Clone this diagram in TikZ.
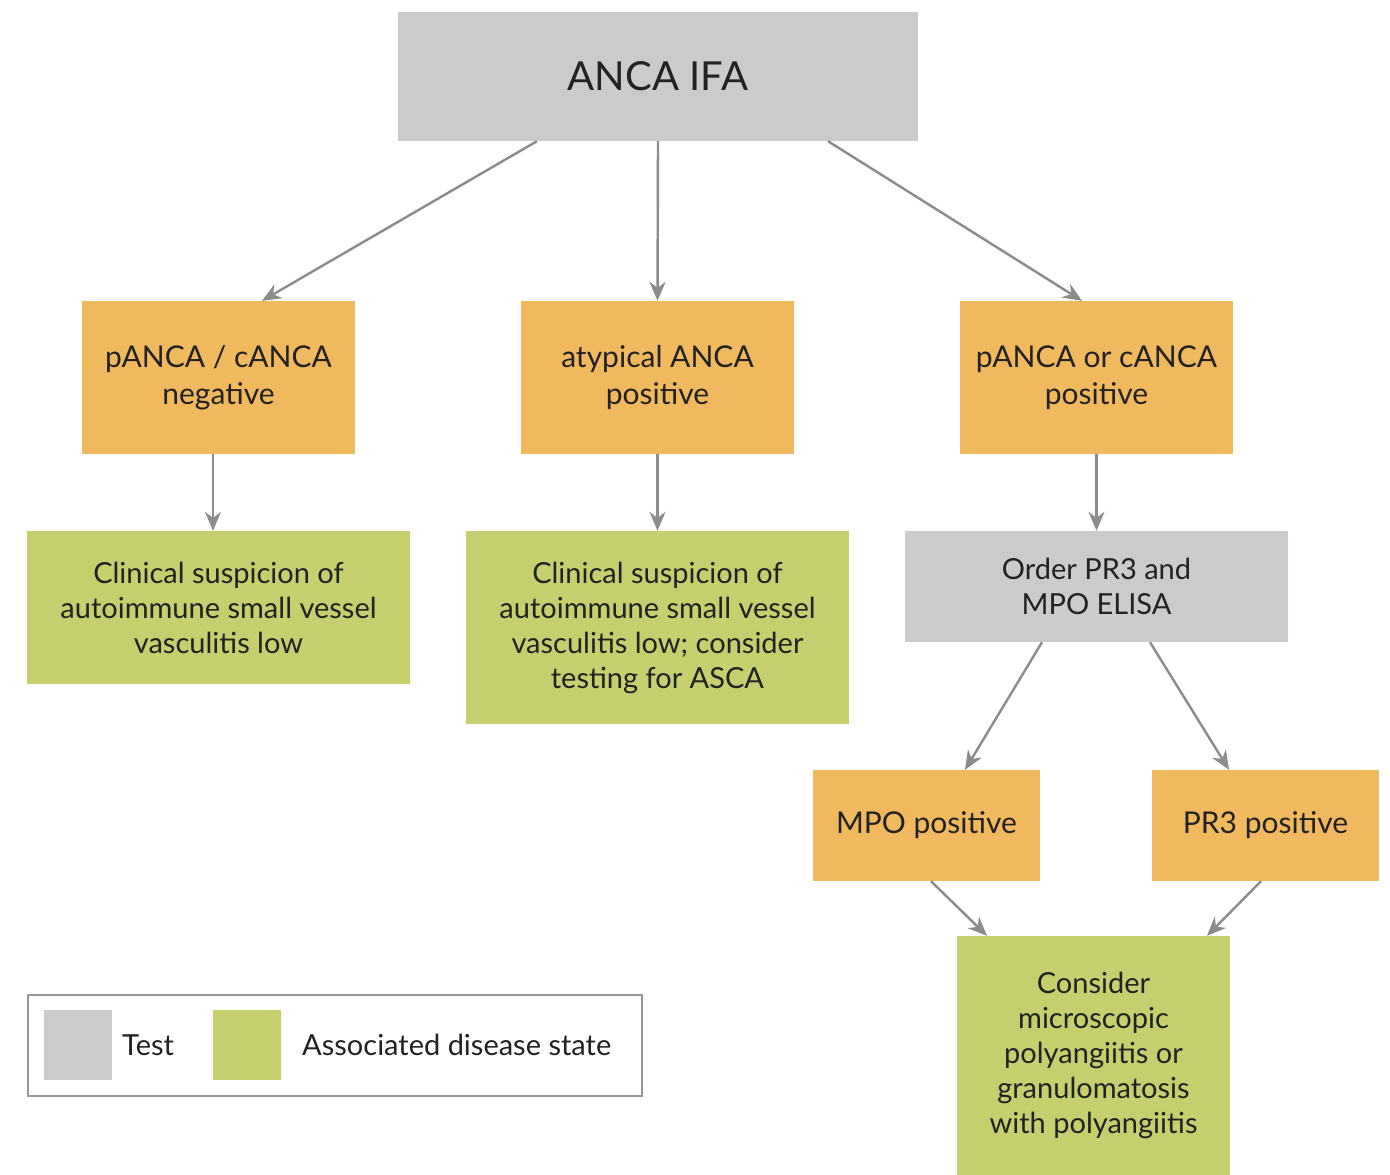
\documentclass[tikz,border=0pt]{standalone}
\usepackage{fontspec}
\setmainfont{Lato}
\usetikzlibrary{arrows.meta}
\definecolor{testgray}{HTML}{CCCACB}
\definecolor{resorange}{HTML}{F0B95E}
\definecolor{disgreen}{HTML}{C5CF6E}
\definecolor{arrowgray}{HTML}{8C8C8C}
\definecolor{txt}{HTML}{222222}
\tikzset{
  box/.style={inner sep=0pt, align=center, text=txt, font=\fontsize{29}{35}\selectfont},
  resfont/.style={font=\fontsize{30}{37}\selectfont},
  testbox/.style={box, fill=testgray},
  resbox/.style={box, fill=resorange, resfont},
  disbox/.style={box, fill=disgreen},
  conn/.style={draw=arrowgray, line width=2.4pt, -{Stealth[length=19pt, width=16pt]}},
}
\begin{document}
\begin{tikzpicture}[x=1pt, y=-1pt]
\useasboundingbox (0,0) rectangle (1390,1175);
\fill[white] (0,0) rectangle (1390,1175);
% nodes
\node[testbox, minimum width=520pt, minimum height=129pt, font=\fontsize{40}{48}\selectfont] (ifa) at (658,76.5) {ANCA IFA};
\node[resbox, minimum width=273pt, minimum height=153pt] (neg) at (218.5,377.5) {pANCA / cANCA\\negative};
\node[resbox, minimum width=273pt, minimum height=153pt] (aty) at (657.5,377.5) {atypical ANCA\\positive};
\node[resbox, minimum width=273pt, minimum height=153pt] (pos) at (1096.5,377.5) {pANCA or cANCA\\positive};
\node[disbox, minimum width=383pt, minimum height=153pt] (low1) at (218.5,607.5) {Clinical suspicion of\\autoimmune small vessel\\vasculitis low};
\node[disbox, minimum width=383pt, minimum height=193pt] (low2) at (657.5,627.5) {Clinical suspicion of\\autoimmune small vessel\\vasculitis low; consider\\testing for ASCA};
\node[testbox, minimum width=383pt, minimum height=111pt] (elisa) at (1096.5,586.5) {Order PR3 and\\MPO ELISA};
\node[resbox, minimum width=227pt, minimum height=111pt] (mpo) at (926.5,825.5) {MPO positive};
\node[resbox, minimum width=227pt, minimum height=111pt] (pr3) at (1265.5,825.5) {PR3 positive};
\node[disbox, minimum width=273pt, minimum height=239pt] (gpa) at (1093.5,1055.5) {Consider\\microscopic\\polyangiitis or\\granulomatosis\\with polyangiitis};
% legend
\node[draw=arrowgray!90, line width=2pt, minimum width=614pt, minimum height=101pt, inner sep=0pt] (legend) at (335,1045.5) {};
\node[fill=testgray, minimum width=68pt, minimum height=70pt, inner sep=0pt] (legtest) at (78,1045) {};
\node[box, anchor=west] (legtesttxt) at (122,1045) {Test};
\node[fill=disgreen, minimum width=68pt, minimum height=70pt, inner sep=0pt] (legdis) at (247,1045) {};
\node[box, anchor=west] (legdistxt) at (302,1045) {Associated disease state};
% connectors
\draw[conn] ([xshift=-121pt]ifa.south) -- ([xshift=43.5pt]neg.north);
\draw[conn] (ifa.south) -- (aty.north);
\draw[conn] ([xshift=170pt]ifa.south) -- ([xshift=-14.5pt]pos.north);
\draw[conn] ([xshift=-5.5pt]neg.south) -- ([xshift=-5.5pt]low1.north);
\draw[conn] (aty.south) -- (low2.north);
\draw[conn] (pos.south) -- (elisa.north);
\draw[conn] ([xshift=-54.5pt]elisa.south) -- ([xshift=38.5pt]mpo.north);
\draw[conn] ([xshift=53.5pt]elisa.south) -- ([xshift=-36.5pt]pr3.north);
\draw[conn] ([xshift=4.5pt]mpo.south) -- ([xshift=-106.5pt]gpa.north);
\draw[conn] ([xshift=-4.5pt]pr3.south) -- ([xshift=113.5pt]gpa.north);
\end{tikzpicture}
\end{document}
